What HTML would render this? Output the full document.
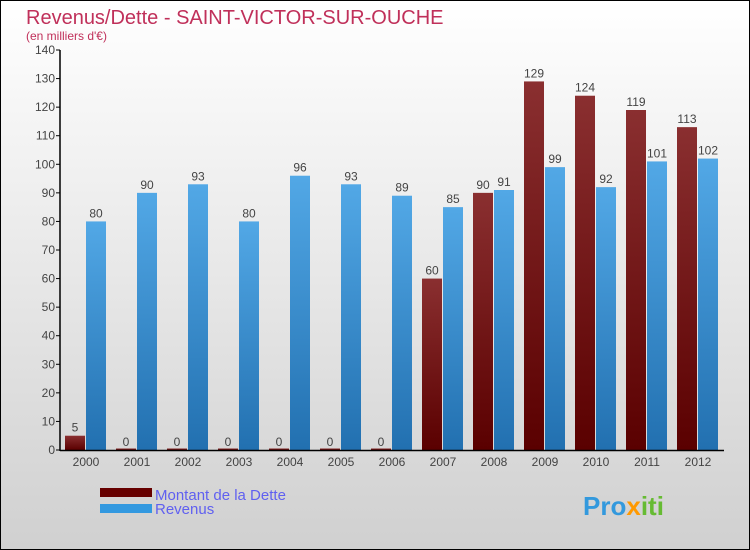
<!DOCTYPE html>
<html><head><meta charset="utf-8"><style>
body{margin:0}
svg{display:block;font-family:"Liberation Sans",sans-serif}
</style></head><body>
<svg id="c" width="750" height="550" xmlns="http://www.w3.org/2000/svg">
<defs>
<linearGradient id="bg" x1="0" y1="0" x2="0" y2="1"><stop offset="0" stop-color="#ffffff"/><stop offset="1" stop-color="#d0d0d0"/></linearGradient>
<linearGradient id="gd" x1="0" y1="0" x2="0" y2="1"><stop offset="0" stop-color="#8a2f30"/><stop offset="1" stop-color="#5a0000"/></linearGradient>
<linearGradient id="gr" x1="0" y1="0" x2="0" y2="1"><stop offset="0" stop-color="#52a8e6"/><stop offset="1" stop-color="#2270b0"/></linearGradient>
</defs>
<rect x="0.5" y="0.5" width="749" height="549" fill="url(#bg)" stroke="#000"/>
<text x="26" y="24" font-size="20" fill="#c0305a">Revenus/Dette - SAINT-VICTOR-SUR-OUCHE</text>
<text x="26" y="40" font-size="12" fill="#c0305a">(en milliers d'€)</text>
<g id="plot"></g>
<rect x="100" y="488" width="52" height="9" fill="#660000"/>
<text x="155" y="500" font-size="15" fill="#6060f0">Montant de la Dette</text>
<rect x="100" y="504" width="52" height="9" fill="#3399e0"/>
<text x="155" y="514" font-size="15" fill="#6060f0">Revenus</text>
<text x="583" y="515" font-size="26" font-weight="bold" fill="#3399dd">Pro<tspan fill="#ff9900">x</tspan><tspan fill="#66bb33">iti</tspan></text>
</svg>
<script>
const years=["2000","2001","2002","2003","2004","2005","2006","2007","2008","2009","2010","2011","2012"];
const dette=[5,0,0,0,0,0,0,60,90,129,124,119,113];
const revenus=[80,90,93,80,96,93,89,85,91,99,92,101,102];
const yTicks=[0,10,20,30,40,50,60,70,80,90,100,110,120,130,140];
const NS="http://www.w3.org/2000/svg";
const g=document.getElementById('plot');
const y=v=>450-v*400/140;
const xc=i=>86+i*51;
function mk(t,a,p){const e=document.createElementNS(NS,t);for(const k in a)e.setAttribute(k,a[k]);(p||g).appendChild(e);return e;}
yTicks.forEach(v=>{
 const l=mk('line',{x1:56,x2:60,y1:y(v),y2:y(v),stroke:'#000'});
 
 
 const t=mk('text',{x:55,y:y(v)+4,'font-size':12,'text-anchor':'end',fill:'#444'});t.textContent=v;
 
 
});
years.forEach((yr,i)=>{
 const c=xc(i);
 const hd=Math.max(450-y(dette[i]),1.5);
 const b1=mk('rect',{x:c-21,y:450-hd,width:20,height:hd,fill:'url(#gd)'});
 
 
 const t1=mk('text',{x:c-11,y:y(dette[i])-4,'font-size':12,'text-anchor':'middle',fill:'#444'});t1.textContent=dette[i];
 
 
 const b2=mk('rect',{x:c,y:y(revenus[i]),width:20,height:450-y(revenus[i]),fill:'url(#gr)'});
 
 
 const t2=mk('text',{x:c+10,y:y(revenus[i])-4,'font-size':12,'text-anchor':'middle',fill:'#444'});t2.textContent=revenus[i];
 
 
 const xl=mk('text',{x:c,y:466,'font-size':12,'text-anchor':'middle',fill:'#444'});xl.textContent=yr;
 
 
});
const ax=mk('line',{x1:60,x2:60,y1:50,y2:451,stroke:'#000','stroke-width':1.5});


const axx=mk('line',{x1:60,x2:724,y1:450.5,y2:450.5,stroke:'#000','stroke-width':1.5});


</script>
</body></html>
